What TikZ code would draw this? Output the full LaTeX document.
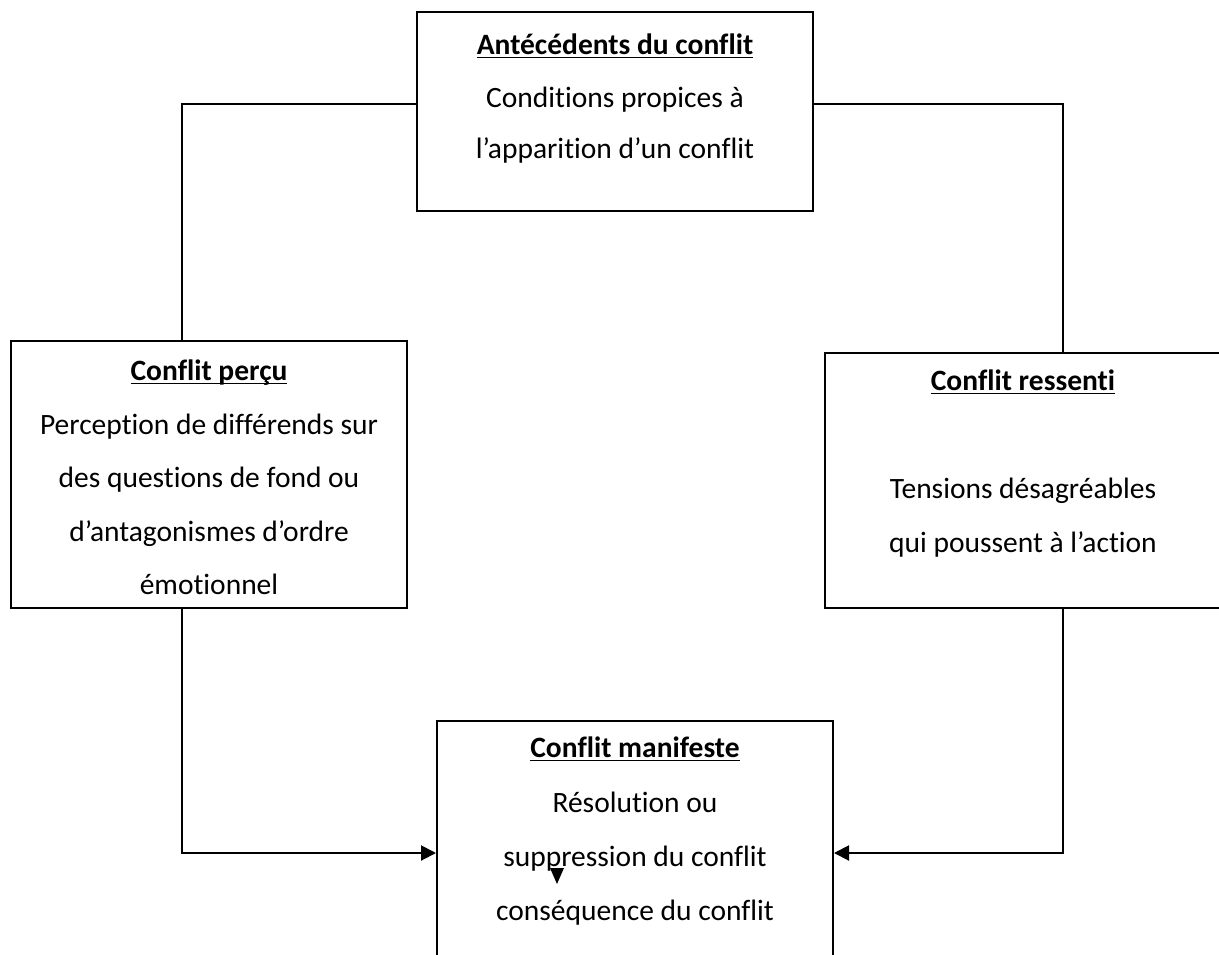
\documentclass[tikz,border=0pt]{standalone}
\usepackage{fontspec}
\setmainfont{Carlito}[Ligatures={NoCommon}]
\usetikzlibrary{arrows.meta}
\newcommand{\ulbf}[1]{\setbox0\hbox{\bfseries #1}\rlap{\rule[-0.15em]{\wd0}{0.065em}}\box0}
\tikzset{
  box/.style={draw=black, line width=2pt, fill=none, inner sep=0pt},
  txt/.style={anchor=base, inner sep=0pt, font=\fontsize{29.5}{35}\selectfont, text=black},
  link/.style={draw=black, line width=2pt},
  arr/.style={link, -{Triangle[length=15pt,width=15pt]}}
}
\begin{document}
\begin{tikzpicture}[x=1pt,y=-1pt]
\useasboundingbox (0,0) rectangle (1219,954);
% boxes
\node[box, minimum width=396pt, minimum height=199pt] (tb) at (615,111.5) {};
\node[box, minimum width=396pt, minimum height=267pt] (lb) at (209,474.5) {};
\node[box, minimum width=410pt, minimum height=255pt] (rb) at (1030,480.5) {};
\node[box, minimum width=396pt, minimum height=259pt] (bb) at (635,850.5) {};
% texts top
\node[txt] (t1) at (615,54) {\ulbf{Antécédents du conflit}};
\node[txt] (t2) at (615,107) {Conditions propices à};
\node[txt] (t3) at (615,158) {l’apparition d’un conflit};
% left
\node[txt] (l1) at (209,380) {\ulbf{Conflit perçu}};
\node[txt] (l2) at (209,434) {Perception de différends sur};
\node[txt] (l3) at (209,487) {des questions de fond ou};
\node[txt] (l4) at (209,541) {d’antagonismes d’ordre};
\node[txt] (l5) at (209,594) {émotionnel};
% right
\node[txt] (r1) at (1023,390) {\ulbf{Conflit ressenti}};
\node[txt] (r2) at (1023,498) {Tensions désagréables};
\node[txt] (r3) at (1023,552) {qui poussent à l’action};
% bottom
\node[txt] (b1) at (635,757) {\ulbf{Conflit manifeste}};
\node[txt] (b2) at (635,812) {Résolution ou};
\node[txt] (b3) at (635,866) {suppression du conflit};
\node[txt] (b4) at (635,920) {conséquence du conflit};
% connectors
\draw[link] ([yshift=7.5pt]tb.west) -| ([xshift=-27pt]lb.north);
\draw[link] ([yshift=7.5pt]tb.east) -| ([xshift=33pt]rb.north);
\draw[arr] ([xshift=-27pt]lb.south) |- ([yshift=-2.5pt]bb.west);
\draw[arr] ([xshift=33pt]rb.south) |- ([yshift=-2.5pt]bb.east);
% stray arrowhead
\fill[black] (550,868) -- (564,868) -- (557,884) -- cycle;
\end{tikzpicture}
\end{document}
